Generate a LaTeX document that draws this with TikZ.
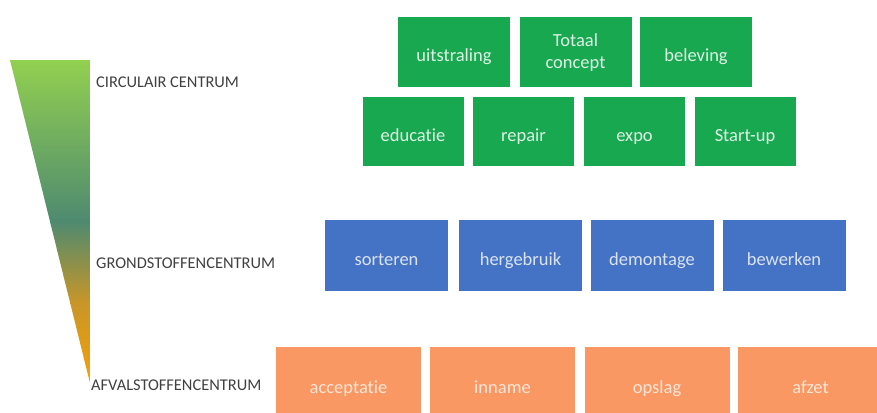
\documentclass[tikz,border=0pt]{standalone}
\usepackage{fontspec}
\setmainfont{Carlito}[Ligatures=NoCommon]
\definecolor{circgreen}{RGB}{24,168,80}
\definecolor{grondblue}{RGB}{68,114,196}
\definecolor{afvalorange}{RGB}{250,152,100}
\definecolor{labelgray}{RGB}{64,64,64}
\definecolor{topgreen}{RGB}{146,208,80}
\definecolor{midteal}{RGB}{78,138,112}
\definecolor{midbrown}{RGB}{200,150,40}
\definecolor{botorange}{RGB}{245,160,10}
\begin{document}
\begin{tikzpicture}[x=1pt,y=-1pt]
            \tikzstyle{box}=[inner sep=0pt, align=center, text height=19pt, text depth=0pt, font=\fontsize{18.5}{22}\selectfont]
            \tikzstyle{groen}=[box, fill=circgreen, text=white!85!circgreen]
            \tikzstyle{blauw}=[box, fill=grondblue, text=white!80!grondblue, minimum width=123pt, minimum height=71pt]
            \tikzstyle{oranje}=[box, fill=afvalorange, text=white!75!afvalorange, minimum width=145pt, minimum height=74pt]
            \tikzstyle{niveau}=[anchor=west, inner sep=0pt, text=labelgray, font=\fontsize{16.4}{19}\selectfont]
            \useasboundingbox (0,0) rectangle (877,412);
            \clip (0,0) rectangle (877,412);
            % driehoek
            \begin{scope}
                \clip (10,60) -- (90,60) -- (90,383) -- cycle;
                \shade[top color=topgreen, bottom color=midteal] (10,60) rectangle (90,222);
                \shade[top color=midteal, bottom color=midbrown] (10,221) rectangle (90,303);
                \shade[top color=midbrown, bottom color=botorange] (10,302) rectangle (90,383);
            \end{scope}
            \node[niveau] (Nc) at (96,82) {CIRCULAIR CENTRUM};
            \node[niveau] (Ng) at (96,263) {GRONDSTOFFENCENTRUM};
            \node[niveau] (Na) at (91,385) {AFVALSTOFFENCENTRUM};
            % circulair centrum
            \node[groen, minimum width=112pt, minimum height=70pt] (C1) at (454,52) {uitstraling};
            \node[groen, minimum width=112pt, minimum height=70pt, text height=32pt] (C2) at (575.5,52) {Totaal\\concept};
            \node[groen, minimum width=112pt, minimum height=70pt] (C3) at (696,52) {beleving};
            \node[groen, minimum width=101pt, minimum height=69pt] (C4) at (413,131.5) {educatie};
            \node[groen, minimum width=101pt, minimum height=69pt] (C5) at (523.5,131.5) {repair};
            \node[groen, minimum width=101pt, minimum height=69pt] (C6) at (634.5,131.5) {expo};
            \node[groen, minimum width=101pt, minimum height=69pt] (C7) at (745,131.5) {Start-up};
            % grondstoffencentrum
            \node[blauw] (G1) at (386.5,255.5) {sorteren};
            \node[blauw] (G2) at (520.5,255.5) {hergebruik};
            \node[blauw] (G3) at (652,255.5) {demontage};
            \node[blauw] (G4) at (784,255.5) {bewerken};
            % afvalstoffencentrum
            \node[oranje] (A1) at (348.5,384) {acceptatie};
            \node[oranje] (A2) at (502.5,384) {inname};
            \node[oranje] (A3) at (657,384) {opslag};
            \node[oranje] (A4) at (810.5,384) {afzet};
        \end{tikzpicture}
\end{document}
